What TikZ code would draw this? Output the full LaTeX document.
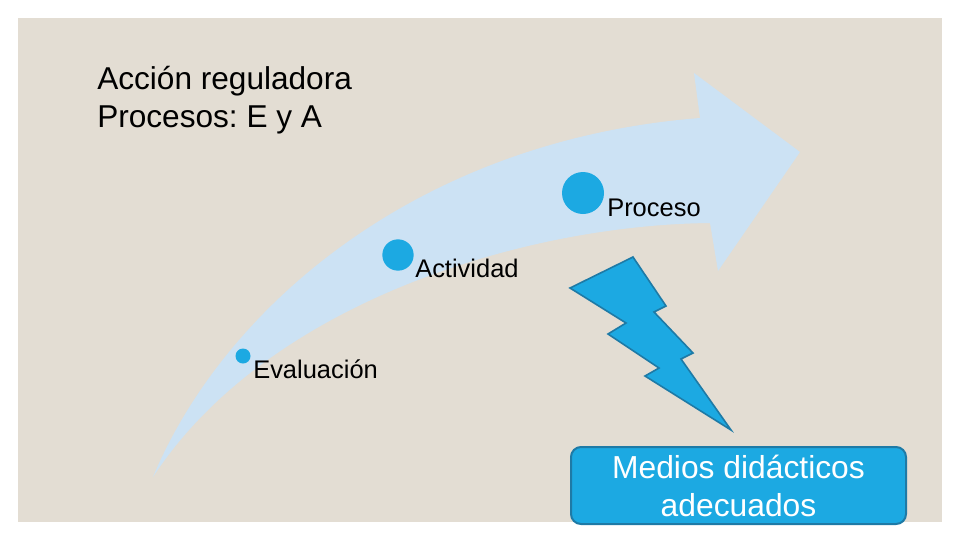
\documentclass[tikz,border=0pt]{standalone}
\usepackage{fontspec}
\setmainfont{Liberation Sans}
\frenchspacing
\definecolor{paperbeige}{RGB}{227,221,211}
\definecolor{arrowblue}{RGB}{204,226,244}
\definecolor{dotblue}{RGB}{28,169,226}
\definecolor{boltedge}{RGB}{30,122,166}

\begin{document}
\begin{tikzpicture}[
    x=0.75pt, y=-0.75pt,
    dot/.style={circle, fill=dotblue, inner sep=0pt, minimum size=#1},
    steplabel/.style={anchor=base west, inner sep=0pt, font=\fontsize{19.1}{22}\selectfont},
    titleline/.style={anchor=base west, inner sep=0pt, font=\fontsize{23.7}{28}\selectfont},
    medbox/.style={rectangle, rounded corners=7.5pt, draw=boltedge, line width=1.5pt,
                   fill=dotblue, text=white, align=center, inner sep=0pt,
                   minimum width=251.25pt, minimum height=57.75pt,
                   font=\fontsize{23.85}{28.5}\selectfont},
]
    \useasboundingbox (0,0) rectangle (960,540);
    \fill[paperbeige] (18,18) rectangle (942,522);

    % curved arrow
    \fill[arrowblue] (153,477) .. controls (225,305) and (420,140) .. (700,118)
        -- (694,73) -- (800,152) -- (718,271) -- (710,223)
        .. controls (520,225) and (265,305) .. (153,477) -- cycle;

    % title
    \node[titleline] (titleA) at (97,89) {Acción reguladora};
    \node[titleline] (titleB) at (97,127) {Procesos: E y A};

    % steps
    \node[dot=11.25pt] (evaluacion) at (243,356) {};
    \node[dot=23.5pt] (actividad) at (398,255) {};
    \node[dot=31.5pt] (proceso) at (583,193) {};
    \node[steplabel] (evaluacionLbl) at (253,378) {Evaluación};
    \node[steplabel] (actividadLbl) at (415,277) {Actividad};
    \node[steplabel] (procesoLbl) at (607,216) {Proceso};

    % bolt
    \filldraw[fill=dotblue, draw=boltedge, line width=1.2pt, line join=miter]
        (570,288) -- (633,257) -- (666,306) -- (654,312) -- (693,353) -- (681,359)
        -- (731,430) -- (645,376) -- (659,368) -- (608,334) -- (626,323) -- cycle;

    \node[medbox] (medios) at (738.5,485.5) {Medios didácticos\\adecuados};
\end{tikzpicture}
\end{document}
